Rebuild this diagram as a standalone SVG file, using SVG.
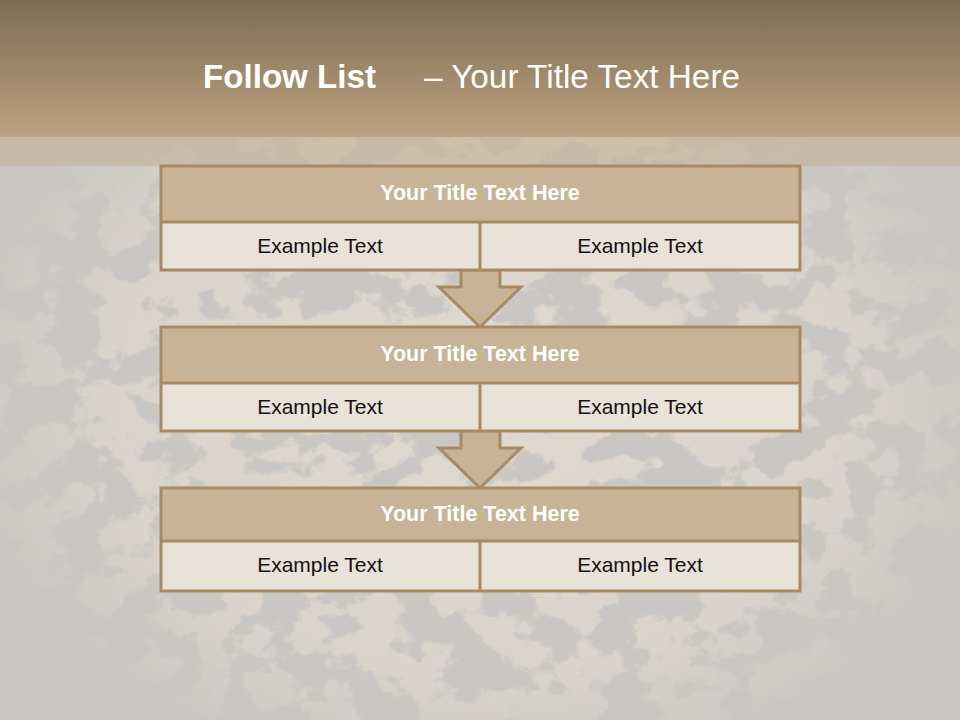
<svg xmlns="http://www.w3.org/2000/svg" width="960" height="720" viewBox="0 0 960 720">
<defs>
<linearGradient id="hdr" x1="0" y1="0" x2="0" y2="1">
<stop offset="0" stop-color="#7e6c53"/>
<stop offset="1" stop-color="#bca27f"/>
</linearGradient>
<radialGradient id="fade" cx="0.5" cy="0.55" r="0.55">
<stop offset="0" stop-color="#fff" stop-opacity="1"/>
<stop offset="0.7" stop-color="#fff" stop-opacity="0.7"/>
<stop offset="1" stop-color="#fff" stop-opacity="0"/>
</radialGradient>
<mask id="m"><rect x="0" y="0" width="960" height="720" fill="url(#fade)"/></mask>
<filter id="tex" x="0" y="0" width="1" height="1">
<feTurbulence type="fractalNoise" baseFrequency="0.02 0.026" numOctaves="5" seed="7" result="n"/>
<feColorMatrix in="n" type="matrix" values="0 0 0 0 0  0 0 0 0 0  0 0 0 0 0  0 0 0 -12 6.6" result="a"/>
<feFlood flood-color="#efe6d8"/>
<feComposite in2="a" operator="in"/>
</filter>
<style>
.frame{fill:none;stroke:#a88a62;stroke-width:3}
.ttl{fill:#c8b396}
.cell{fill:#e8e2d9}
.tt{font-family:"Liberation Sans",Arial,sans-serif;font-weight:bold;font-size:21.5px;fill:#ffffff;text-anchor:middle}
.ct{font-family:"Liberation Sans",Arial,sans-serif;font-size:21px;fill:#111111;text-anchor:middle}
.arrow{fill:#c8b396;stroke:#a88a62;stroke-width:3;stroke-linejoin:miter}
.ht{font-family:"Liberation Sans",Arial,sans-serif;font-size:34px;fill:#ffffff}
</style>
</defs>
<rect x="0" y="0" width="960" height="720" fill="#c9c7c3"/>
<g mask="url(#m)" opacity="0.6">
<rect x="0" y="120" width="960" height="600" filter="url(#tex)"/>
</g>
<rect x="0" y="0" width="960" height="137" fill="url(#hdr)"/>
<rect x="0" y="137" width="960" height="29" fill="#c2ad8e" opacity="0.55"/>
<g id="header">
<text class="ht" x="203" y="88" font-weight="bold" textLength="173" lengthAdjust="spacingAndGlyphs">Follow List</text>
<text class="ht" x="424" y="88" textLength="316" lengthAdjust="spacingAndGlyphs">– Your Title Text Here</text>
</g>
<g id="connectors">
<path class="arrow" d="M461 270 L500 270 L500 287 L521 287 L480 327 L439 287 L461 287 Z"/>
<path class="arrow" d="M461 431 L500 431 L500 448 L521 448 L480 488 L439 448 L461 448 Z"/>
</g>
<g id="box1">
<rect class="ttl" x="161" y="166" width="639" height="56"/>
<rect class="cell" x="161" y="222" width="639" height="48"/>
<rect class="frame" x="161" y="166" width="639" height="104"/>
<line class="frame" x1="161" y1="222" x2="800" y2="222"/>
<line class="frame" x1="480" y1="222" x2="480" y2="270"/>
<text class="tt" x="480" y="200">Your Title Text Here</text>
<text class="ct" x="320" y="253">Example Text</text>
<text class="ct" x="640" y="253">Example Text</text>
</g>
<g id="box2">
<rect class="ttl" x="161" y="327" width="639" height="56"/>
<rect class="cell" x="161" y="383" width="639" height="48"/>
<rect class="frame" x="161" y="327" width="639" height="104"/>
<line class="frame" x1="161" y1="383" x2="800" y2="383"/>
<line class="frame" x1="480" y1="383" x2="480" y2="431"/>
<text class="tt" x="480" y="361">Your Title Text Here</text>
<text class="ct" x="320" y="414">Example Text</text>
<text class="ct" x="640" y="414">Example Text</text>
</g>
<g id="box3">
<rect class="ttl" x="161" y="488" width="639" height="53"/>
<rect class="cell" x="161" y="541" width="639" height="50"/>
<rect class="frame" x="161" y="488" width="639" height="103"/>
<line class="frame" x1="161" y1="541" x2="800" y2="541"/>
<line class="frame" x1="480" y1="541" x2="480" y2="591"/>
<text class="tt" x="480" y="521">Your Title Text Here</text>
<text class="ct" x="320" y="572">Example Text</text>
<text class="ct" x="640" y="572">Example Text</text>
</g>
</svg>
